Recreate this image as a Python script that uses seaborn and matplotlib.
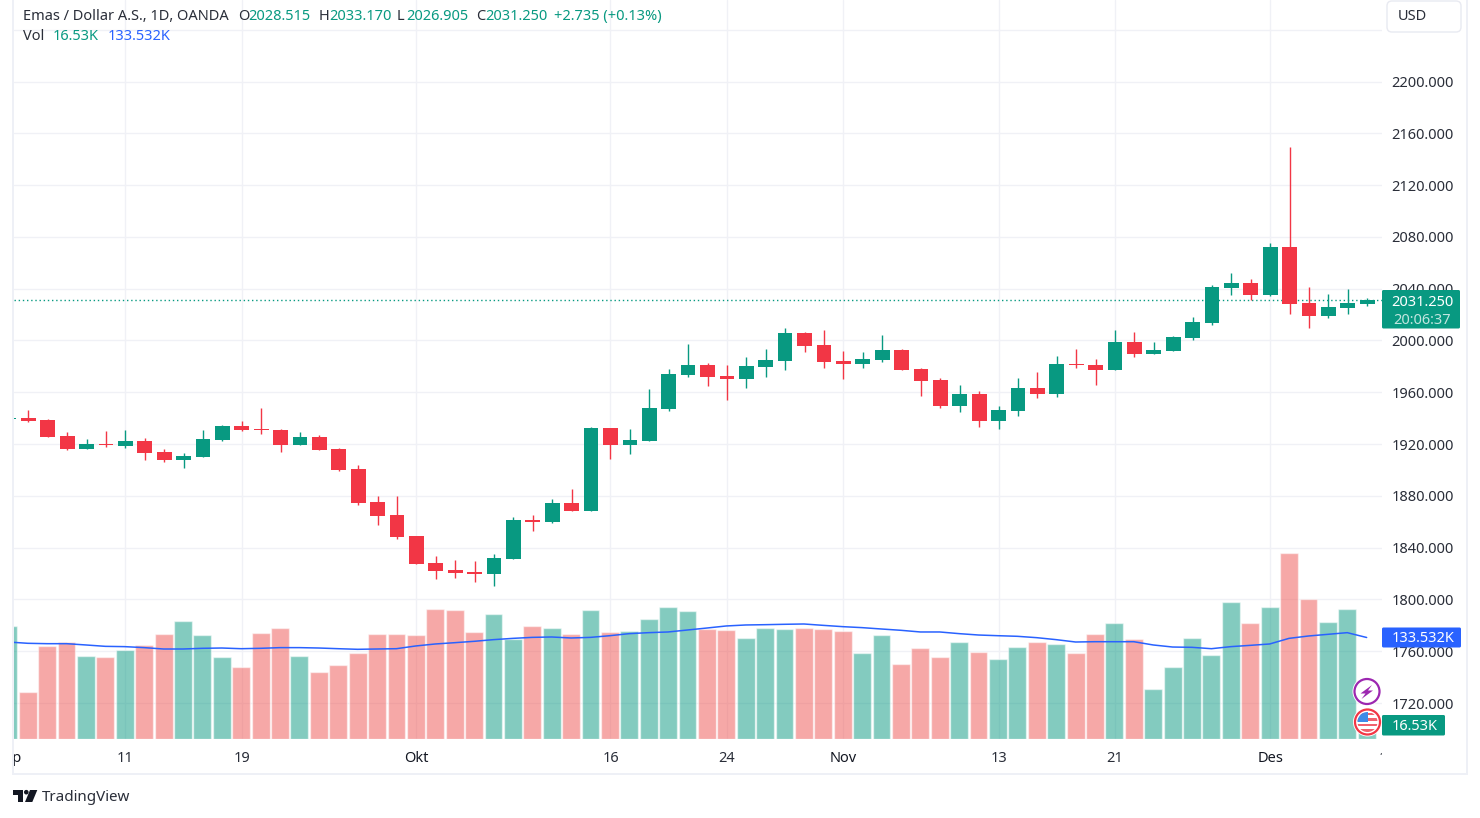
import numpy as np
import pandas as pd
import matplotlib
matplotlib.use("Agg")
import matplotlib.pyplot as plt
import seaborn as sns
from matplotlib.patches import Circle, FancyBboxPatch, Polygon, Rectangle

# daily gold candles
opens = [1939.4, 1940.1, 1938.6, 1926.2, 1916.2, 1920.1, 1918.5, 1922.4, 1913.9, 1907.7,
         1910.0, 1923.2, 1934.0, 1931.6, 1930.9, 1919.3, 1925.5, 1916.2, 1900.7, 1875.3,
         1865.2, 1849.0, 1828.1, 1822.7, 1821.2, 1819.6, 1831.2, 1861.3, 1859.8, 1874.5,
         1868.3, 1932.4, 1919.3, 1922.4, 1947.1, 1973.3, 1981.1, 1972.6, 1970.3, 1979.5,
         1984.2, 2005.8, 1996.5, 1984.2, 1981.8, 1984.9, 1992.7, 1978.0, 1969.5, 1949.4,
         1958.7, 1937.8, 1945.5, 1963.3, 1958.7, 1981.8, 1981.1, 1977.2, 1998.8, 1989.6,
         1991.9, 2001.9, 2013.5, 2040.5, 2044.4, 2035.1, 2072.2, 2029.0, 2018.9, 2025.1,
         2028.515]
highs = [1940.1, 1946.3, 1939.4, 1929.3, 1923.9, 1930.1, 1930.9, 1924.7, 1916.2, 1913.1,
         1930.9, 1934.7, 1937.8, 1947.9, 1931.6, 1929.3, 1927.0, 1917.0, 1903.8, 1879.9,
         1879.9, 1849.0, 1833.5, 1830.4, 1829.7, 1835.1, 1863.7, 1865.2, 1877.6, 1885.3,
         1933.2, 1932.4, 1931.6, 1962.5, 1978.0, 1997.3, 1982.6, 1981.1, 1987.2, 1993.4,
         2009.7, 2006.6, 2008.1, 1991.9, 1991.1, 2004.2, 1993.4, 1978.8, 1971.0, 1965.6,
         1961.0, 1949.4, 1971.0, 1975.7, 1988.0, 1993.4, 1985.7, 2008.1, 2006.6, 1998.8,
         2003.5, 2018.1, 2042.9, 2052.1, 2047.5, 2075.3, 2149.5, 2041.3, 2035.9, 2039.8,
         2033.170]
lows = [1939.4, 1937.1, 1925.5, 1915.4, 1916.2, 1917.7, 1917.0, 1907.7, 1906.2, 1901.5,
        1910.0, 1922.4, 1930.1, 1927.8, 1913.9, 1919.3, 1915.4, 1899.2, 1873.0, 1857.5,
        1846.7, 1827.4, 1815.8, 1816.5, 1813.5, 1810.4, 1831.2, 1852.8, 1859.0, 1868.3,
        1868.3, 1908.5, 1912.3, 1922.4, 1945.5, 1971.8, 1964.8, 1954.0, 1963.3, 1971.8,
        1977.2, 1991.1, 1978.8, 1970.3, 1978.8, 1983.4, 1977.2, 1957.1, 1947.9, 1944.8,
        1933.2, 1931.6, 1941.7, 1955.6, 1956.3, 1978.8, 1965.6, 1977.2, 1987.2, 1989.6,
        1991.9, 2000.4, 2012.0, 2035.1, 2031.3, 2034.4, 2020.5, 2009.7, 2017.4, 2020.5,
        2026.905]
closes = [1940.1, 1937.8, 1925.5, 1916.2, 1920.1, 1919.3, 1922.4, 1913.1, 1907.7, 1910.8,
          1923.9, 1934.0, 1930.9, 1930.9, 1919.3, 1925.5, 1915.4, 1900.0, 1874.5, 1864.4,
          1848.2, 1827.4, 1821.9, 1820.4, 1819.6, 1832.0, 1861.3, 1859.8, 1874.5, 1868.3,
          1932.4, 1919.3, 1923.1, 1947.9, 1974.1, 1981.1, 1971.8, 1970.3, 1980.3, 1984.9,
          2005.8, 1995.8, 1983.4, 1981.8, 1985.7, 1992.7, 1977.2, 1968.7, 1949.4, 1958.7,
          1937.8, 1946.3, 1963.3, 1958.7, 1981.8, 1981.1, 1977.2, 1998.8, 1989.6, 1992.7,
          2002.7, 2014.3, 2041.3, 2044.4, 2035.1, 2072.2, 2028.2, 2018.9, 2025.9, 2029.0,
          2031.250]

# volume in thousands and its moving average
volumes = [148.7, 61.8, 122.4, 127.6, 109.2, 107.9, 117.1, 123.7, 138.1, 155.2,
           136.8, 107.9, 94.7, 139.4, 146.0, 109.2, 88.1, 97.4, 113.1, 138.1,
           138.1, 136.8, 171.0, 169.7, 140.8, 164.4, 131.6, 148.7, 146.0, 138.1,
           169.7, 140.8, 142.1, 157.9, 173.7, 168.4, 144.7, 143.4, 132.9, 146.0,
           144.7, 146.0, 144.7, 142.1, 113.1, 136.8, 98.7, 119.7, 107.9, 127.6,
           114.5, 105.2, 121.0, 127.6, 125.0, 113.1, 138.1, 152.6, 131.6, 65.8,
           94.7, 132.9, 110.5, 180.2, 152.6, 173.7, 244.7, 184.2, 153.9, 171.0,
           16.53]
vol_ma = [127.6, 125.9, 125.4, 125.4, 123.7, 121.9, 121.5, 120.2, 118.4, 118.4,
          119.3, 119.7, 118.8, 119.3, 120.2, 120.2, 119.7, 118.8, 118.0, 118.4,
          118.8, 122.4, 125.0, 126.7, 128.5, 130.7, 132.4, 133.7, 134.2, 132.9,
          133.7, 135.9, 138.6, 139.9, 140.8, 143.4, 146.0, 148.7, 150.0, 150.4,
          150.9, 151.3, 149.5, 147.8, 146.5, 144.7, 143.0, 140.8, 140.8, 138.6,
          136.8, 135.9, 135.1, 133.3, 130.7, 127.6, 128.0, 128.0, 128.0, 123.7,
          121.0, 120.6, 118.8, 121.5, 123.2, 125.0, 132.4, 135.5, 137.7, 139.9,
          133.532]

time_pos = [0, 6, 12, 21, 31, 37, 43, 51, 57, 65, 71]
time_labels = ["Sep", "11", "19", "Okt", "16", "24", "Nov", "13", "21", "Des", "11"]
month_labels = ["Sep", "Okt", "Nov", "Des"]
price_ticks = [1720, 1760, 1800, 1840, 1880, 1920, 1960, 2000, 2040, 2080, 2120, 2160, 2200, 2240]

last_price = 2031.250

UP = "#089981"
DOWN = "#F23645"
VOL_UP = "#089981"
VOL_DOWN = "#EF5350"
GRID = "#F0F1F6"
TEXT = "#131722"
LABEL = "#2A2E39"
BLUE = "#2962FF"

FONT = "Noto Sans"
FS = 10.5
W, H = 1480, 818

sns.set_theme(style="white")
plt.rcParams["font.family"] = [FONT, "DejaVu Sans"]


def pane_rect(x0, y0, x1, y1):
    # pixel box (y down) to figure fractions
    return [x0 / W, 1 - y1 / H, (x1 - x0) / W, (y1 - y0) / H]


df = pd.DataFrame({"i": np.arange(len(opens)), "open": opens, "high": highs, "low": lows,
                   "close": closes, "volume": volumes, "ma": vol_ma})
df["dir"] = np.where(df["close"] >= df["open"], "up", "down")

fig = plt.figure(figsize=(W / 100, H / 100), dpi=100, facecolor="white")

# price pane first, so the grid stays behind the see-through volume bars
ax = fig.add_axes(pane_rect(13.5, 0, 1382, 739))
# volume pane sits half a pixel left, the bars snap differently from the candles
ax_vol = fig.add_axes(pane_rect(12.9, 0, 1381.4, 739), sharex=ax)
ax_vol.patch.set_visible(False)

# candles
candle_colors = df["dir"].map({"up": UP, "down": DOWN})
ax.vlines(df["i"], df["low"], df["high"], colors=candle_colors, lw=1, zorder=4)
ax.bar(df["i"], (df["close"] - df["open"]).abs().clip(lower=0.8),
       bottom=df[["open", "close"]].min(axis=1), width=0.76, color=candle_colors,
       linewidth=0, zorder=5)
ax.axhline(last_price, color=UP, lw=1, ls=(0, (1, 2)), zorder=3)
ax.set_ylim(1692.2, 2263.0)
ax.set_yticks(price_ticks)
# the 2240 line has its label hidden behind the currency button
ax.set_yticklabels([f"{p}.000" if p < 2240 else "" for p in price_ticks], color=LABEL, fontsize=FS)
ax.yaxis.tick_right()
ax.set_xticks([p for p in time_pos if 0.235 < p < 70.76])
ax.tick_params(axis="y", length=0, pad=7.0)
ax.tick_params(axis="x", length=0, labelbottom=False)
ax.grid(axis="both", color=GRID, lw=1)
ax.set_axisbelow(True)
sns.despine(ax=ax, left=True, bottom=True, right=True, top=True)

sns.barplot(data=df, x="i", y="volume", hue="dir", native_scale=True, dodge=False,
            palette={"up": VOL_UP, "down": VOL_DOWN}, alpha=0.5, width=0.92,
            saturation=1, errorbar=None, legend=False, ax=ax_vol, zorder=2)
sns.lineplot(data=df, x="i", y="ma", color=BLUE, lw=1.1, ax=ax_vol, zorder=3)
ax_vol.set_ylim(0, 972.2)
ax_vol.set_xlim(0.235, 70.76)
ax_vol.set_yticks([])
ax_vol.set_xlabel("")
ax_vol.set_ylabel("")
ax_vol.tick_params(length=0, labelbottom=False)
ax.set_xlabel("")
ax.set_ylabel("")
sns.despine(ax=ax_vol, left=True, bottom=True)

# time scale, labels at both ends get cut off by the pane
ax_time = fig.add_axes(pane_rect(13.5, 739, 1382, 773), sharex=ax)
ax_time.set_ylim(0, 1)
ax_time.axis("off")
for pos, lab in zip(time_pos, time_labels):
    ax_time.text(pos, 0.43, lab, ha="center", va="center", fontsize=FS, clip_on=True,
                 color=TEXT if lab in month_labels else LABEL,
                 fontweight="bold" if lab in month_labels else "normal")

# everything else is placed in pixels on a full size overlay
ov = fig.add_axes([0, 0, 1, 1], zorder=10)
ov.set_xlim(0, W)
ov.set_ylim(H, 0)
ov.axis("off")

for x0, y0, x1, y1 in [(12.3, 0, 14, 775), (12.3, 773, 1468, 775), (1466, 0, 1468, 775)]:
    ov.add_patch(Rectangle((x0, y0), x1 - x0, y1 - y0, fc="#EEF0F6", ec="none"))

ov.add_patch(FancyBboxPatch((1387, 1), 74, 31, boxstyle="round,pad=0,rounding_size=5",
                            fc="white", ec="#E8EAF1", lw=1))
ov.text(1398, 16.5, "USD", ha="left", va="center", fontsize=FS, color=LABEL)

legend_top = [(23, "Emas / Dollar A.S., 1D, OANDA", LABEL), (238, "O", LABEL), (248, "2028.515", UP),
              (319, "H", LABEL), (329, "2033.170", UP), (397, "L", LABEL), (406, "2026.905", UP),
              (476, "C", LABEL), (485, "2031.250", UP), (554, "+2.735 (+0.13%)", UP)]
for x, s, c in legend_top:
    ov.text(x, 16.5, s, ha="left", va="center", fontsize=FS, color=c)
for x, s, c in [(23, "Vol", LABEL), (53, "16.53K", UP), (108, "133.532K", BLUE)]:
    ov.text(x, 37, s, ha="left", va="center", fontsize=FS, color=c)

# last value tags on the price scale
ov.add_patch(FancyBboxPatch((1382, 290), 78, 38.5, boxstyle="round,pad=0,rounding_size=1.5",
                            fc=UP, ec="none"))
ov.text(1422.5, 302, "2031.250", ha="center", va="center", fontsize=FS, color="white")
ov.text(1422.5, 320.5, "20:06:37", ha="center", va="center", fontsize=FS, color="white", alpha=0.75)
ov.add_patch(FancyBboxPatch((1382, 627.5), 79, 20, boxstyle="round,pad=0,rounding_size=1.5",
                            fc=BLUE, ec="none"))
ov.text(1423, 639, "133.532K", ha="center", va="center", fontsize=FS, color="white")
ov.add_patch(FancyBboxPatch((1382, 715), 63, 20.5, boxstyle="round,pad=0,rounding_size=1.5",
                            fc=UP, ec="none"))
ov.text(1415, 727, "16.53K", ha="center", va="center", fontsize=FS, color="white")

# event badges
ov.add_patch(Circle((1367, 691.5), 14.5, fc="white", ec="none"))
ov.add_patch(Circle((1367, 691.5), 12.5, fc="white", ec="#9C27B0", lw=1.6))
ov.add_patch(Polygon([(1372, 685), (1360.5, 693.5), (1365.5, 693.5), (1361.5, 699), (1373, 690.5),
                      (1368, 690.5)], fc="#9C27B0", ec="none"))

ov.add_patch(Circle((1367.5, 722), 14.5, fc="white", ec="none"))
flag = Circle((1367.5, 722), 10, transform=ov.transData, fc="white", ec="none")
ov.add_patch(flag)
for yy, hh in [(712.5, 2.5), (718, 2.5), (723.5, 2.5), (729, 3.5)]:
    r = Rectangle((1356, yy), 23, hh, fc="#F0616D", ec="none")
    ov.add_patch(r)
    r.set_clip_path(flag)
canton = Rectangle((1356, 711.5), 11.5, 10, fc="#3D8BE8", ec="none")
ov.add_patch(canton)
canton.set_clip_path(flag)
ov.add_patch(Circle((1367.5, 722), 12.5, fc="none", ec="#F23645", lw=1.6))

# TradingView mark
LOGO = "#131722"
ov.add_patch(Polygon([(13, 790), (23.3, 790), (23.3, 802), (18.3, 802), (18.3, 794.5), (13, 794.5)],
                     fc=LOGO, ec="none"))
ov.add_patch(Circle((26.3, 792.2), 2.3, fc=LOGO, ec="none"))
ov.add_patch(Polygon([(30, 790), (37.3, 790), (32.3, 802), (25, 802)], fc=LOGO, ec="none"))
ov.text(42, 797.5, "TradingView", ha="left", va="center", fontsize=10.9, color="#2A2E39")

fig.savefig("out.png", dpi=100)
